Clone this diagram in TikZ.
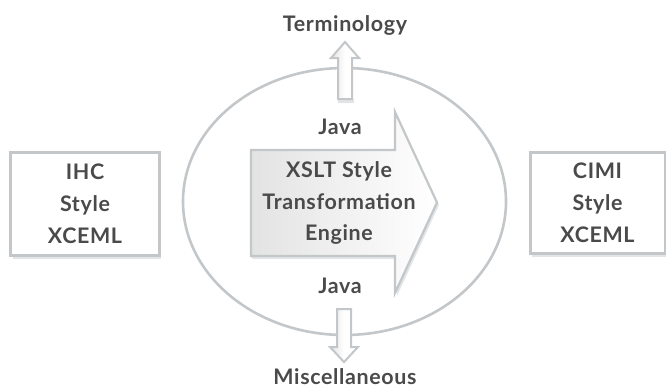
\documentclass[tikz,border=0pt]{standalone}
\usepackage{fontspec}
\setmainfont{Lato}[LetterSpace=3]
\usetikzlibrary{shapes.geometric}
\definecolor{edgegray}{HTML}{C3C7C9}
\definecolor{txtgray}{HTML}{4A4A4A}
\definecolor{shadowgray}{HTML}{E2E4E5}
\tikzset{
  box/.style={draw=edgegray, line width=3bp, fill=white, minimum width=145bp, minimum height=101bp, inner sep=0pt,
    align=center, text=txtgray, font=\fontsize{21.5}{32}\selectfont\bfseries},
  lbl/.style={text=txtgray, font=\fontsize{21.5}{32}\selectfont\bfseries, align=center, inner sep=0pt},
  arrowshape/.style={draw=edgegray, line width=2.2bp, line join=miter, left color=gray!22, right color=white},
  smallarrow/.style={draw=edgegray, line width=2bp, line join=miter, left color=gray!22, right color=white, middle color=white},
  shadowfill/.style={fill=shadowgray, draw=none}
}
\begin{document}
\begin{tikzpicture}[x=1bp,y=-1bp]
\useasboundingbox (0,0) rectangle (666,390);
% ellipse
\node[draw=edgegray, line width=2.6bp, ellipse, minimum width=323bp, minimum height=267bp, inner sep=0pt] (ell) at (344.5,201.5) {};
% box shadows
\fill[shadowgray] (13,254) rectangle (161,259);
\fill[shadowgray] (532,252) rectangle (666,257);
% boxes
\node[box, minimum width=148bp, minimum height=103bp] (ihc) at (85,203.5) {IHC\\Style\\XCEML};
\node[box, minimum width=135bp, minimum height=101bp] (cimi) at (597.5,202.5) {CIMI\\Style\\XCEML};
% big arrow shadow
\fill[shadowgray] (253,259) -- (397,259) -- (397,296) -- (439,205) -- (437,202) -- (395,293) -- (395,257) -- (251,257) -- cycle;
% big arrow
\path[arrowshape] (251,150) -- (395,150) -- (395,112) -- (437,202.5) -- (395,293) -- (395,256) -- (251,256) -- cycle;
\node[lbl] (engine) at (339,203) {XSLT Style\\Transformation\\Engine};
\node[lbl] (java1) at (340,127) {Java};
\node[lbl] (java2) at (340,286) {Java};
% up arrow
\fill[shadowgray] (338,99) rectangle (354,103);
\path[smallarrow] (338,99) -- (338,58) -- (331,58) -- (345,42) -- (359,58) -- (352,58) -- (352,99) -- cycle;
\node[lbl] (term) at (345,25) {Terminology};
% down arrow
\path[smallarrow] (337,309) -- (351,309) -- (351,347) -- (358,347) -- (344,362) -- (330,347) -- (337,347) -- cycle;
\node[lbl] (misc) at (345,377) {Miscellaneous};
\end{tikzpicture}
\end{document}
